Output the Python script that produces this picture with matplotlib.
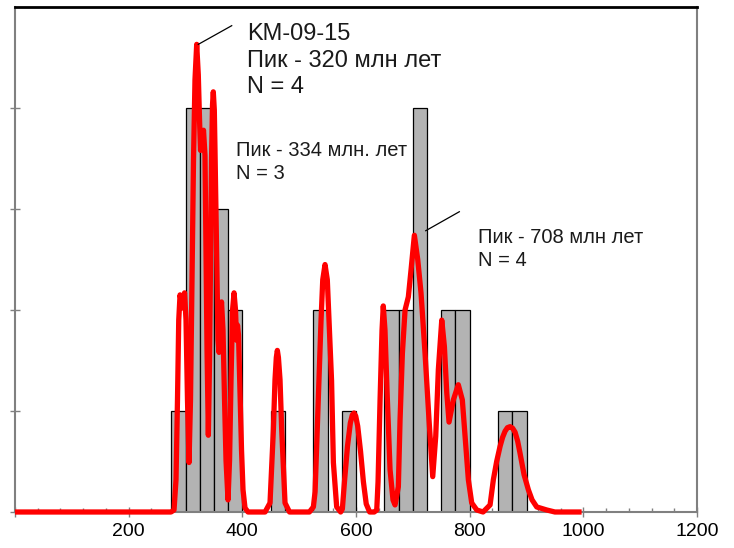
import matplotlib
matplotlib.use('Agg')
import matplotlib.pyplot as plt
from matplotlib.ticker import MultipleLocator

plt.rcParams['font.family'] = ['Liberation Sans', 'DejaVu Sans']

# histogram: left bin edges (Ma) and counts
bin_left = [275, 300, 325, 350, 375, 450, 525, 575, 650, 675, 700, 750, 775, 850, 875]
counts = [1, 4, 4, 3, 2, 1, 2, 1, 2, 2, 4, 2, 2, 1, 1]
bin_width = 25

# probability density curve (age, relative value)
curve_age = [0, 274.5, 279.8, 283.3, 285.9, 288.1, 290.4, 294.8, 298.3, 300.9, 303.5,
             306.2, 308.8, 311.5, 314.1, 316.7, 319.7, 322.5, 324.7, 326.4, 329.1,
             331.7, 334.3, 336.1, 337.9, 340.2, 342.3, 344.1, 345.8, 347.5, 348.9,
             350.7, 351.9, 354.6, 357.2, 359.0, 361.6, 363.4, 366.0, 368.7, 371.3,
             374.8, 377.5, 380.1, 382.8, 385.4, 388.0, 389.8, 391.5, 393.3, 395.9,
             398.6, 401.2, 404.7, 410,
             440, 448.7, 454.6, 457.5, 459.8, 461.6, 463.5, 466.3, 469.3, 475.1, 483,
             518, 525, 528, 533.7, 538.5, 541.5, 545.5, 549.5, 552.5, 557, 560.2, 566, 573,
             576, 580, 585, 590, 593.5, 596.5, 599.5, 603, 608, 613, 618, 624,
             632, 636.5, 638.8, 642.3, 645.8, 648, 651, 654.6, 659.9, 665.1, 668.7,
             674.5, 677.5, 681.6, 686.3, 692.1, 696.9, 702.7, 708.6, 714.4, 721.5,
             728.5, 735, 740.3, 744.9, 750.9, 755.5, 759.7, 763.7, 771.3, 780,
             787.1, 791.9, 797.7, 803.6, 812.5, 823.6,
             835.9, 841.7, 847.5, 853.5, 858, 862.3, 866.5, 871.1, 875.5, 879.9, 884.5,
             888.7, 895.7, 903.3, 909.8, 918, 935.6, 950, 997]
curve_val = [0, 0, 0.02, 0.32, 1.11, 1.90, 2.15, 2.02, 2.17, 1.90, 1.11,
             0.49, 1.11, 2.30, 3.49, 4.28, 4.63, 4.33, 3.88, 3.58, 3.68,
             3.78, 3.53, 2.59, 1.60, 0.76, 1.50, 2.50, 3.49, 4.03, 4.16,
             3.98, 3.58, 2.59, 1.70, 1.58, 1.95, 2.08, 1.80, 1.11, 0.51,
             0.12, 0.51, 1.31, 2.00, 2.17, 2.00, 1.70, 1.85, 1.75, 1.21,
             0.61, 0.22, 0.04, 0,
             0, 0.09, 0.81, 1.31, 1.53, 1.60, 1.53, 1.31, 0.81, 0.09, 0,
             0, 0.05, 0.20, 1.14, 1.90, 2.30, 2.45, 2.30, 1.90, 1.30, 0.49, 0.05, 0,
             0.03, 0.32, 0.65, 0.88, 0.96, 0.98, 0.95, 0.85, 0.60, 0.30, 0.08, 0,
             0, 0.02, 0.30, 1.10, 1.80, 2.04, 1.80, 1.20, 0.42, 0.12, 0.07,
             0.25, 0.91, 1.57, 2.00, 2.13, 2.40, 2.74, 2.50, 2.17, 1.57,
             0.91, 0.35, 0.75, 1.41, 1.90, 1.64, 1.18, 0.89, 1.11, 1.26,
             1.11, 0.75, 0.32, 0.09, 0.02, 0,
             0.07, 0.32, 0.50, 0.65, 0.74, 0.80, 0.835, 0.845, 0.83, 0.79, 0.70,
             0.58, 0.37, 0.22, 0.12, 0.05, 0.02, 0, 0]

x_ticks = [200, 400, 600, 800, 1000, 1200]

fig = plt.figure(figsize=(7.34, 5.48), dpi=100)
ax = fig.add_axes([15 / 734, 36 / 548, 682 / 734, 505 / 548])

ax.bar(bin_left, counts, width=bin_width, align='edge', color='#b3b3b3',
       edgecolor='black', linewidth=0.9, zorder=2)
ax.plot(curve_age, curve_val, color='#ff0000', linewidth=3.8,
        solid_joinstyle='round', solid_capstyle='butt', zorder=5, clip_on=False)

ax.set_xlim(0, 1200)
ax.set_ylim(0, 5)
ax.set_xticks([0] + x_ticks)
ax.set_xticklabels([''] + [str(t) for t in x_ticks])
ax.xaxis.set_minor_locator(MultipleLocator(40))
ax.set_yticks([0, 1, 2, 3, 4])
ax.set_yticklabels([])

for side in ['left', 'bottom', 'right']:
    ax.spines[side].set_color('#808080')
    ax.spines[side].set_linewidth(1.5)
ax.spines['top'].set_color('black')
ax.spines['top'].set_linewidth(2)

ax.tick_params(axis='x', which='major', direction='inout', length=7.5, width=1,
               color='#808080', labelsize=14, pad=4)
ax.tick_params(axis='x', which='minor', direction='in', length=3, width=1,
               color='#808080')
ax.tick_params(axis='y', which='major', direction='inout', length=7.5, width=1,
               color='#808080')

# annotations
ax.plot([322.5, 381.3], [4.63, 4.815], color='black', linewidth=0.9, zorder=6)
ax.text(407.7, 4.84, 'KM-09-15\nПик - 320 млн лет\nN = 4', fontsize=17,
        va='top', ha='left', color='#1a1a1a', linespacing=1.27)
ax.text(388.9, 3.67, 'Пик - 334 млн. лет\nN = 3', fontsize=14.5,
        va='top', ha='left', color='#1a1a1a', linespacing=1.25)
ax.plot([722.7, 781.8], [2.785, 2.973], color='black', linewidth=0.9, zorder=6)
ax.text(814.2, 2.81, 'Пик - 708 млн лет\nN = 4', fontsize=14.5,
        va='top', ha='left', color='#1a1a1a', linespacing=1.25)

plt.savefig('out.png', dpi=100)
